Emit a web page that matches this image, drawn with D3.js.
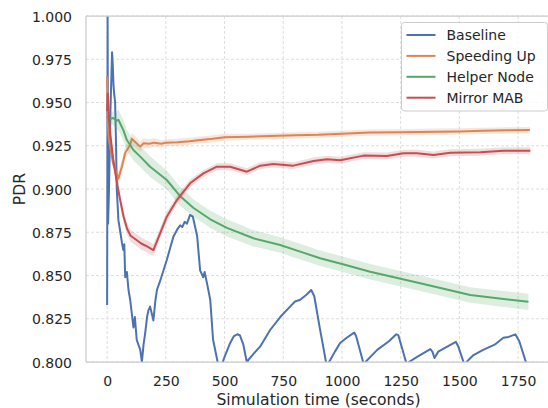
<!DOCTYPE html>
<html>
<head>
<meta charset="utf-8">
<script src="https://cdn.jsdelivr.net/npm/d3@7/dist/d3.min.js"></script>
<style>
  html, body { margin: 0; padding: 0; background: #fff; }
  svg { display: block; font-family: "DejaVu Sans", sans-serif; }
</style>
</head>
<body>
<svg id="chart" width="548" height="408"></svg>
<script>
// ---------- DATA ----------
const seriesNames = ["Baseline", "Speeding Up", "Helper Node", "Mirror MAB"];
const seriesColors = ["#4c72b0", "#dd8452", "#55a868", "#c44e52"];

const xTicks = [0, 250, 500, 750, 1000, 1250, 1500, 1750];
const yTicks = [0.800, 0.825, 0.850, 0.875, 0.900, 0.925, 0.950, 0.975, 1.000];

// Baseline: [time, PDR]
const baselineT = [0,2,4,8,14,21,24,27,30,34,38,41,48,55,63,69,73,77,84,91,98,105,112,118,126,133,141,148,155,162,170,176,183,190,197,205,212,226,254,282,300,311,320,330,340,353,365,383,396,409,415,426,439,451,475,490,500,524,540,554,565,580,596,600,625,652,694,737,779,800,822,850,869,882,905,936,945,970,992,1020,1052,1060,1096,1100,1150,1200,1231,1240,1279,1285,1320,1376,1385,1394,1410,1450,1485,1495,1525,1530,1560,1601,1650,1687,1710,1738,1755,1790,1800];
const baselineV = [0.833,1.000,0.880,0.900,0.945,0.979,0.972,0.960,0.955,0.950,0.925,0.900,0.882,0.876,0.869,0.8647,0.868,0.849,0.852,0.8416,0.836,0.828,0.820,0.826,0.8127,0.810,0.807,0.800,0.810,0.8167,0.826,0.830,0.832,0.828,0.824,0.835,0.8416,0.847,0.859,0.8724,0.877,0.879,0.878,0.881,0.880,0.885,0.884,0.873,0.853,0.849,0.852,0.845,0.836,0.813,0.797,0.799,0.803,0.811,0.815,0.816,0.8155,0.810,0.799,0.801,0.805,0.809,0.8185,0.826,0.832,0.835,0.836,0.839,0.8416,0.838,0.820,0.797,0.800,0.806,0.811,0.814,0.817,0.815,0.797,0.800,0.807,0.812,0.816,0.8155,0.797,0.800,0.803,0.8075,0.806,0.8023,0.806,0.809,0.8117,0.809,0.797,0.800,0.804,0.807,0.810,0.814,0.8145,0.816,0.812,0.797,0.796];

// Speeding Up: time, mean, band half-width
const speedT = [0,2,6,25,48,63,77,98,105,141,155,180,200,230,250,300,350,396,450,500,600,694,800,900,1000,1120,1250,1404,1500,1600,1700,1800];
const speedV = [0.965,0.940,0.930,0.915,0.906,0.913,0.921,0.9254,0.929,0.9245,0.9264,0.9262,0.9268,0.9262,0.9268,0.927,0.9276,0.9283,0.929,0.9299,0.9302,0.9306,0.931,0.9313,0.932,0.9326,0.9328,0.9331,0.9333,0.9336,0.9339,0.9341];
const speedE = [0.004,0.004,0.004,0.004,0.004,0.004,0.0035,0.0035,0.0035,0.003,0.003,0.0025,0.0025,0.002,0.002,0.002,0.002,0.002,0.002,0.002,0.0018,0.0018,0.0018,0.0018,0.0018,0.0018,0.0018,0.0018,0.0018,0.0018,0.0018,0.0018];

// Helper Node
const helperT = [0,10,26,40,48,69,84,112,141,183,254,310,368,439,510,623,737,822,907,1000,1120,1333,1546,1794];
const helperV = [0.942,0.9405,0.941,0.9395,0.940,0.934,0.9283,0.9225,0.9187,0.9129,0.9052,0.896,0.889,0.8825,0.8775,0.8715,0.8676,0.8638,0.860,0.8566,0.8522,0.8455,0.8387,0.8348];
const helperE = [0.003,0.003,0.004,0.005,0.006,0.006,0.006,0.006,0.006,0.006,0.0055,0.0055,0.005,0.005,0.005,0.0047,0.0045,0.0045,0.0045,0.0045,0.0045,0.0045,0.0045,0.0047];

// Mirror MAB
const mirrorT = [0,3,8,15,25,40,55,70,85,100,125,145,170,197,226,254,297,353,410,467,524,595,652,708,793,879,936,992,1092,1191,1262,1319,1390,1461,1589,1688,1802];
const mirrorV = [0.945,0.955,0.940,0.930,0.918,0.905,0.894,0.884,0.877,0.873,0.8705,0.8685,0.8668,0.8647,0.8745,0.884,0.8936,0.9033,0.909,0.9129,0.9129,0.910,0.9135,0.9145,0.9135,0.9162,0.9172,0.9166,0.9193,0.9191,0.9207,0.9207,0.9197,0.921,0.9212,0.9221,0.9221];
const mirrorE = [0.003,0.003,0.003,0.003,0.003,0.003,0.003,0.0035,0.0035,0.0035,0.0035,0.0035,0.0035,0.0035,0.003,0.003,0.0025,0.0022,0.002,0.002,0.002,0.002,0.002,0.002,0.002,0.002,0.002,0.002,0.002,0.002,0.002,0.002,0.002,0.002,0.002,0.002,0.002];

// ---------- LAYOUT ----------
const plot = { left: 86, top: 16, right: 551, bottom: 362 };
const svg = d3.select("#chart");

const x = d3.scaleLinear().domain([-90, 1890]).range([plot.left, plot.right]);
const y = d3.scaleLinear().domain([0.8, 1.0]).range([plot.bottom, plot.top]);

svg.append("defs").append("clipPath").attr("id", "clip")
  .append("rect").attr("x", plot.left).attr("y", plot.top)
  .attr("width", plot.right - plot.left).attr("height", plot.bottom - plot.top);

// grid
const grid = svg.append("g");
grid.selectAll(".gx").data(xTicks).join("line")
  .attr("x1", d => x(d)).attr("x2", d => x(d))
  .attr("y1", plot.top).attr("y2", plot.bottom)
  .attr("stroke", "#d5d5d5").attr("stroke-width", 0.8).attr("stroke-dasharray", "3,2");
grid.selectAll(".gy").data(yTicks).join("line")
  .attr("x1", plot.left).attr("x2", plot.right)
  .attr("y1", d => y(d)).attr("y2", d => y(d))
  .attr("stroke", "#d5d5d5").attr("stroke-width", 0.8).attr("stroke-dasharray", "3,2");

// series
const g = svg.append("g").attr("clip-path", "url(#clip)");

function zipBand(T, V, E) { return T.map((t, i) => ({ t, v: V[i], e: E[i] })); }
const area = d3.area().x(d => x(d.t)).y0(d => y(d.v - d.e)).y1(d => y(d.v + d.e));
const line = d3.line().x(d => x(d.t)).y(d => y(d.v));

const bands = [
  { data: zipBand(speedT, speedV, speedE), color: seriesColors[1] },
  { data: zipBand(helperT, helperV, helperE), color: seriesColors[2] },
  { data: zipBand(mirrorT, mirrorV, mirrorE), color: seriesColors[3] }
];
const baseData = baselineT.map((t, i) => ({ t, v: baselineV[i] }));

g.append("path").datum(baseData).attr("d", line)
  .attr("fill", "none").attr("stroke", seriesColors[0]).attr("stroke-width", 2)
  .attr("stroke-linejoin", "round");
bands.forEach(b => {
  g.append("path").datum(b.data).attr("d", area)
    .attr("fill", b.color).attr("fill-opacity", 0.2).attr("stroke", "none");
  g.append("path").datum(b.data).attr("d", line)
    .attr("fill", "none").attr("stroke", b.color).attr("stroke-width", 2)
    .attr("stroke-linejoin", "round");
});

// spines
const sp = svg.append("g").attr("stroke", "#cccccc").attr("stroke-width", 1.25);
sp.append("line").attr("x1", plot.left).attr("x2", plot.left).attr("y1", plot.top).attr("y2", plot.bottom);
sp.append("line").attr("x1", plot.left).attr("x2", plot.right).attr("y1", plot.bottom).attr("y2", plot.bottom);
sp.append("line").attr("x1", plot.left).attr("x2", plot.right).attr("y1", plot.top).attr("y2", plot.top);
sp.append("line").attr("x1", plot.right).attr("x2", plot.right).attr("y1", plot.top).attr("y2", plot.bottom);

// axes (tick labels only, no tick marks)
const xAxis = d3.axisBottom(x).tickValues(xTicks).tickSize(0).tickPadding(0).tickFormat(d3.format("d"));
const xg = svg.append("g").attr("transform", `translate(0,${plot.bottom})`).call(xAxis);
xg.select(".domain").remove();
xg.selectAll("text").attr("y", 24).attr("dy", null)
  .attr("font-size", "14px").attr("fill", "#262626").attr("font-family", "DejaVu Sans");

const yAxis = d3.axisLeft(y).tickValues(yTicks).tickSize(0).tickPadding(0).tickFormat(d3.format(".3f"));
const yg = svg.append("g").attr("transform", `translate(${plot.left},0)`).call(yAxis);
yg.select(".domain").remove();
yg.selectAll("text").attr("x", -14).attr("dy", "0.36em")
  .attr("font-size", "14px").attr("fill", "#262626").attr("font-family", "DejaVu Sans");

// axis labels
svg.append("text").attr("x", (plot.left + plot.right) / 2).attr("y", 405)
  .attr("text-anchor", "middle").attr("font-size", "15.6px").attr("fill", "#262626")
  .text("Simulation time (seconds)");
svg.append("text").attr("transform", `translate(25,${(plot.top + plot.bottom) / 2}) rotate(-90)`)
  .attr("text-anchor", "middle").attr("font-size", "15.6px").attr("fill", "#262626")
  .text("PDR");

// legend
const lg = svg.append("g");
lg.append("rect").attr("x", 401.5).attr("y", 22.5).attr("width", 146).attr("height", 88.5)
  .attr("rx", 3).attr("fill", "#ffffff").attr("fill-opacity", 0.8)
  .attr("stroke", "#cccccc").attr("stroke-width", 1);
seriesNames.forEach((name, i) => {
  const yy = 35 + i * 20.9;
  lg.append("line").attr("x1", 406.5).attr("x2", 435.5).attr("y1", yy).attr("y2", yy)
    .attr("stroke", seriesColors[i]).attr("stroke-width", 2);
  lg.append("text").attr("x", 446.5).attr("y", yy).attr("dy", "0.36em")
    .attr("font-size", "14px").attr("fill", "#262626").text(name);
});
</script>
</body>
</html>
